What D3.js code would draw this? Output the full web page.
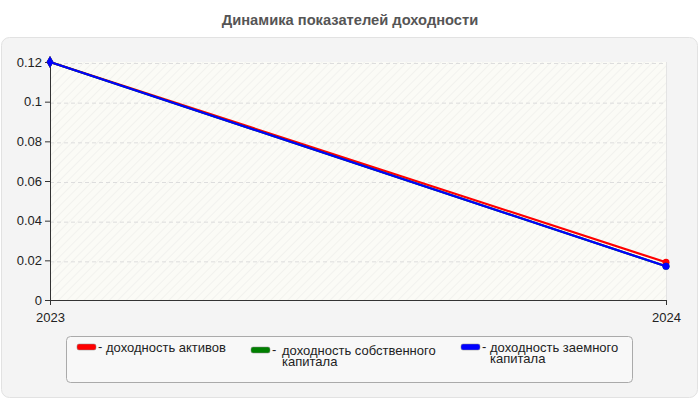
<!DOCTYPE html>
<html>
<head>
<meta charset="utf-8">
<script src="https://cdn.jsdelivr.net/npm/d3@7"></script>
<style>
  body { margin: 0; background: #fff; font-family: "Liberation Sans", Arial, sans-serif; }
</style>
</head>
<body>
<svg id="chart" width="700" height="400"></svg>
<script>
const years = ["2023", "2024"];
const yTicks = [0, 0.02, 0.04, 0.06, 0.08, 0.1, 0.12];
const seriesNames = ["доходность активов", "доходность собственного капитала", "доходность заемного капитала"];
const seriesColors = ["#ff0000", "#008000", "#0000ff"];
const assetsReturn = [0.12, 0.019];
const equityReturn = [0.12, 0.017];
const debtReturn = [0.12, 0.017];

let svg = d3.select("#chart");

let margin = { left: 50, right: 34, top: 62, bottom: 100 };
let width = 700 - margin.left - margin.right;
let height = 400 - margin.top - margin.bottom;

let defs = svg.append("defs");
let pattern = defs.append("pattern")
                  .attr("id", "hatch")
                  .attr("width", 6)
                  .attr("height", 6)
                  .attr("patternUnits", "userSpaceOnUse")
                  .attr("patternTransform", "rotate(45)");
pattern.append("rect").attr("width", 6).attr("height", 6).attr("fill", "#fbfbf6");
pattern.append("line")
       .attr("x1", 0).attr("y1", 0).attr("x2", 0).attr("y2", 6)
       .attr("stroke", "#f0f0ec").attr("stroke-width", 1.5);

// panel
svg.append("rect")
   .attr("x", 1.5).attr("y", 37.5)
   .attr("width", 696).attr("height", 360)
   .attr("rx", 8)
   .attr("fill", "#f4f4f4")
   .attr("stroke", "#e2e2e2");

svg.append("text")
   .attr("x", 350).attr("y", 25)
   .attr("text-anchor", "middle")
   .attr("font-size", 14.7)
   .attr("font-weight", "bold")
   .attr("fill", "#555")
   .text("Динамика показателей доходности");

let g = svg.append("g").attr("transform", `translate(${margin.left},${margin.top})`);

let x = d3.scalePoint().domain(years).range([0, width]);
let y = d3.scaleLinear().domain([0, 0.12]).range([height, 0]);

g.append("rect")
 .attr("width", width).attr("height", height)
 .attr("fill", "url(#hatch)");

g.selectAll(".grid")
 .data(yTicks.slice(1))
 .enter()
 .append("line")
 .attr("x1", 0).attr("x2", width)
 .attr("y1", (t) => y(t) + 1.5).attr("y2", (t) => y(t) + 1.5)
 .attr("stroke", "#dddddd")
 .attr("stroke-dasharray", "4,3");

g.append("line")
 .attr("x1", width + 0.5).attr("x2", width + 0.5)
 .attr("y1", 0).attr("y2", height)
 .attr("stroke", "#e4e4e4");

let yAxis = g.append("g")
             .call(d3.axisLeft(y).tickValues(yTicks).tickFormat((d) => String(+d.toFixed(2))).tickSize(5).tickSizeOuter(0));
let xAxis = g.append("g")
             .attr("transform", `translate(0,${height})`)
             .call(d3.axisBottom(x).tickSize(5).tickSizeOuter(0));

[yAxis, xAxis].forEach((ax) => {
  ax.select(".domain").attr("stroke", "#333");
  ax.selectAll(".tick line").attr("stroke", "#333");
  ax.selectAll("text")
    .attr("font-family", "Liberation Sans, Arial, sans-serif")
    .attr("font-size", 13)
    .attr("fill", "#222");
});
xAxis.selectAll("text").attr("dy", "1.05em");

let seriesData = [assetsReturn, equityReturn, debtReturn];

let line = d3.line()
             .x((d, i) => x(years[i]))
             .y((d) => y(d));

seriesData.forEach((vals, k) => {
  g.append("path")
   .datum(vals)
   .attr("d", line)
   .attr("fill", "none")
   .attr("stroke", seriesColors[k])
   .attr("stroke-width", 2.2);

  // first point diamond, rest circles
  g.append("path")
   .attr("d", d3.symbol(d3.symbolDiamond, 40)())
   .attr("transform", `translate(${x(years[0])},${y(vals[0])})`)
   .attr("fill", seriesColors[k]);
  g.append("circle")
   .attr("cx", x(years[1]))
   .attr("cy", y(vals[1]))
   .attr("r", 3.5)
   .attr("fill", seriesColors[k]);
});

// legend
let legend = svg.append("g");
legend.append("rect")
      .attr("x", 66.5).attr("y", 336.5)
      .attr("width", 566).attr("height", 46)
      .attr("rx", 4)
      .attr("fill", "#f8f8f8")
      .attr("stroke", "#aaa");

// swatch x, dash x, text x, top y for each item
let legendPos = [[77, 98, 106, 344], [251, 272, 282, 347], [461, 482, 490, 344]];
let legendLines = [["доходность активов"], ["доходность собственного", "капитала"], ["доходность заемного", "капитала"]];

seriesNames.forEach((name, k) => {
  let [sx, dx, tx, ty] = legendPos[k];
  legend.append("rect")
        .attr("x", sx).attr("y", ty)
        .attr("width", 19).attr("height", 6)
        .attr("rx", 2)
        .attr("fill", seriesColors[k])
        .attr("stroke", "#888")
        .attr("stroke-width", 0.5);
  legend.append("text")
        .attr("x", dx).attr("y", ty + 7)
        .attr("font-size", 13)
        .attr("fill", "#222")
        .text("-");
  legendLines[k].forEach((ln, j) => {
    legend.append("text")
          .attr("x", tx)
          .attr("y", ty + 8 + j * 11)
          .attr("font-size", 13)
          .attr("fill", "#222")
          .text(ln);
  });
});
</script>
</body>
</html>
